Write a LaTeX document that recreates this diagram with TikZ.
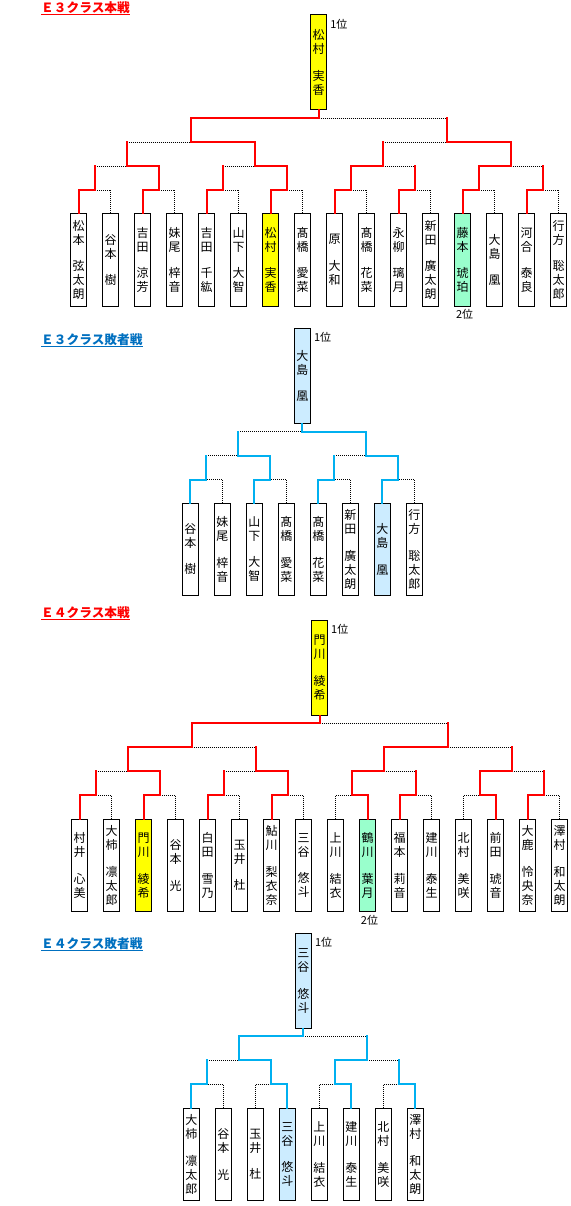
\documentclass[tikz,border=0pt]{standalone}
\usepackage{fontspec}
\newfontfamily\jp{Noto Sans CJK JP}
\usetikzlibrary{calc}
\definecolor{winred}{RGB}{255,0,0}
\definecolor{winblue}{RGB}{0,176,240}
\definecolor{ttlblue}{RGB}{0,112,192}
\definecolor{cyel}{RGB}{255,255,0}
\definecolor{cmint}{RGB}{153,255,204}
\definecolor{clblue}{RGB}{204,236,255}
\tikzset{
  leaf/.style={draw=black, line width=1pt, minimum width=16pt, minimum height=92pt, inner sep=0pt, align=center, font=\jp\fontsize{12}{14}\selectfont},
  champ/.style={leaf, minimum height=95pt},
  lose/.style={draw=black, line width=0.9pt, dash pattern=on 1pt off 1pt},
  winr/.style={draw=winred, line width=2pt, line cap=rect},
  winb/.style={draw=winblue, line width=2pt, line cap=rect},
  ttl/.style={font=\jp\bfseries\fontsize{12.7}{14}\selectfont, inner sep=0pt, anchor=west},
  rank/.style={font=\jp\fontsize{11}{12}\selectfont, inner sep=0pt},
}
% pair match between two leaf nodes
\newcommand\pairm[5]{%
  \coordinate (tmpy) at (0,#3);
  \path ($(#1.north)!0.5!(#2.north)$) coordinate (#4-m);
  \coordinate (#4) at (#4-m |- tmpy);
  \draw[lose] (#1.north) -- (#1.north |- tmpy) -- (#2.north |- tmpy) -- (#2.north);
  \if#5l\draw[win] (#1.north) -- (#1.north |- tmpy) -- (#4);%
  \else\draw[win] (#2.north) -- (#2.north |- tmpy) -- (#4);\fi
}
% higher match between two junctions
\newcommand\grpm[5]{%
  \coordinate (tmpy) at (0,#3);
  \path ($(#1)!0.5!(#2)$) coordinate (#4-m);
  \coordinate (#4) at (#4-m |- tmpy);
  \draw[lose] (#1 |- tmpy) -- (#2 |- tmpy);
  \draw[win] (#1) -- (#1 |- tmpy);
  \draw[win] (#2) -- (#2 |- tmpy);
  \if#5l\draw[win] (#1 |- tmpy) -- (#4);%
  \else\draw[win] (#2 |- tmpy) -- (#4);\fi
}
\begin{document}
\begin{tikzpicture}[x=1pt,y=-1pt]
\useasboundingbox (0,0) rectangle (570,1206);
\fill[white] (0,0) rectangle (570,1206);

%================ E3 main
\node[ttl, text=winred] (tA) at (41,7.8) {Ｅ３クラス本戦};
\draw[winred, line width=1pt] ([yshift=-0.8pt]tA.south west) -- ([yshift=-0.8pt]tA.south east);
\begin{scope}[win/.style=winr]
\foreach \t/\f [count=\i from 0] in {
 {松\\本\\[12.5pt]弦\\太\\朗}/white, {谷\\本\\[12.5pt]樹}/white, {吉\\田\\[12.5pt]涼\\芳}/white, {妹\\尾\\[12.5pt]梓\\音}/white,
 {吉\\田\\[12.5pt]千\\紘}/white, {山\\下\\[12.5pt]大\\智}/white, {松\\村\\[12.5pt]実\\香}/cyel, {髙\\橋\\[12.5pt]愛\\菜}/white,
 {原\\[12.5pt]大\\和}/white, {髙\\橋\\[12.5pt]花\\菜}/white, {永\\柳\\[12.5pt]璃\\月}/white, {新\\田\\[12.5pt]廣\\太\\朗}/white,
 {藤\\本\\[12.5pt]琥\\珀}/cmint, {大\\島\\[12.5pt]凰}/white, {河\\合\\[12.5pt]泰\\良}/white, {行\\方\\[12.5pt]聡\\太\\郎}/white}
 \node[leaf, fill=\f] (A\i) at (78.6+32*\i,260) {\t};
\pairm{A0}{A1}{190}{Ap0}{l}
\pairm{A2}{A3}{190}{Ap1}{l}
\pairm{A4}{A5}{190}{Ap2}{l}
\pairm{A6}{A7}{190}{Ap3}{l}
\pairm{A8}{A9}{190}{Ap4}{l}
\pairm{A10}{A11}{190}{Ap5}{l}
\pairm{A12}{A13}{190}{Ap6}{l}
\pairm{A14}{A15}{190}{Ap7}{l}
\grpm{Ap0}{Ap1}{166}{Ag0}{r}
\grpm{Ap2}{Ap3}{166}{Ag1}{r}
\grpm{Ap4}{Ap5}{166}{Ag2}{l}
\grpm{Ap6}{Ap7}{166}{Ag3}{l}
\grpm{Ag0}{Ag1}{142}{As0}{r}
\grpm{Ag2}{Ag3}{142}{As1}{r}
\grpm{As0}{As1}{118}{Af}{l}
\coordinate (cyA) at (0,62.5);
\node[champ, fill=cyel] (Ac) at (Af |- cyA) {松\\村\\[12.5pt]実\\香};
\draw[win] (Af) -- (Ac.south);
\node[rank, anchor=west] (Ar1) at ([xshift=3pt,yshift=-10pt]Ac.north east) {1位};
\node[rank, anchor=north] (Ar2) at ([xshift=2pt,yshift=-3pt]A12.south) {2位};
\end{scope}

%================ E3 loser
\node[ttl, text=ttlblue] (tB) at (41,339.2) {Ｅ３クラス敗者戦};
\draw[ttlblue, line width=1pt] ([yshift=-0.8pt]tB.south west) -- ([yshift=-0.8pt]tB.south east);
\begin{scope}[win/.style=winb]
\foreach \t/\f [count=\i from 0] in {
 {谷\\本\\[12.5pt]樹}/white, {妹\\尾\\[12.5pt]梓\\音}/white, {山\\下\\[12.5pt]大\\智}/white, {髙\\橋\\[12.5pt]愛\\菜}/white,
 {髙\\橋\\[12.5pt]花\\菜}/white, {新\\田\\[12.5pt]廣\\太\\朗}/white, {大\\島\\[12.5pt]凰}/clblue, {行\\方\\[12.5pt]聡\\太\\郎}/white}
 \node[leaf, fill=\f] (B\i) at (190.3+32*\i,549.3) {\t};
\pairm{B0}{B1}{479.5}{Bp0}{l}
\pairm{B2}{B3}{479.5}{Bp1}{l}
\pairm{B4}{B5}{479.5}{Bp2}{l}
\pairm{B6}{B7}{479.5}{Bp3}{l}
\grpm{Bp0}{Bp1}{455.5}{Bg0}{r}
\grpm{Bp2}{Bp3}{455.5}{Bg1}{r}
\grpm{Bg0}{Bg1}{431.5}{Bf}{r}
\coordinate (cyB) at (0,375.8);
\node[champ, fill=clblue] (Bc) at (Bf |- cyB) {大\\島\\[12.5pt]凰};
\draw[win] (Bf) -- (Bc.south);
\node[rank, anchor=west] (Br1) at ([xshift=3pt,yshift=-10pt]Bc.north east) {1位};
\end{scope}

%================ E4 main
\node[ttl, text=winred] (tC) at (41,612.5) {Ｅ４クラス本戦};
\draw[winred, line width=1pt] ([yshift=-0.8pt]tC.south west) -- ([yshift=-0.8pt]tC.south east);
\begin{scope}[win/.style=winr]
\foreach \t/\f [count=\i from 0] in {
 {村\\井\\[12.5pt]心\\美}/white, {大\\柿\\[12.5pt]凛\\太\\郎}/white, {門\\川\\[12.5pt]綾\\希}/cyel, {谷\\本\\[12.5pt]光}/white,
 {白\\田\\[12.5pt]雪\\乃}/white, {玉\\井\\[12.5pt]杜}/white, {鮎\\川\\[12.5pt]梨\\衣\\奈}/white, {三\\谷\\[12.5pt]悠\\斗}/white,
 {上\\川\\[12.5pt]結\\衣}/white, {鶴\\川\\[12.5pt]葉\\月}/cmint, {福\\本\\[12.5pt]莉\\音}/white, {建\\川\\[12.5pt]泰\\生}/white,
 {北\\村\\[12.5pt]美\\咲}/white, {前\\田\\[12.5pt]琥\\音}/white, {大\\鹿\\[12.5pt]怜\\央\\奈}/white, {澤\\村\\[12.5pt]和\\太\\朗}/white}
 \node[leaf, fill=\f] (C\i) at (79.5+32*\i,865.5) {\t};
\pairm{C0}{C1}{795.3}{Cp0}{l}
\pairm{C2}{C3}{795.3}{Cp1}{l}
\pairm{C4}{C5}{795.3}{Cp2}{l}
\pairm{C6}{C7}{795.3}{Cp3}{l}
\pairm{C8}{C9}{795.3}{Cp4}{r}
\pairm{C10}{C11}{795.3}{Cp5}{l}
\pairm{C12}{C13}{795.3}{Cp6}{r}
\pairm{C14}{C15}{795.3}{Cp7}{l}
\grpm{Cp0}{Cp1}{771.3}{Cg0}{r}
\grpm{Cp2}{Cp3}{771.3}{Cg1}{r}
\grpm{Cp4}{Cp5}{771.3}{Cg2}{l}
\grpm{Cp6}{Cp7}{771.3}{Cg3}{l}
\grpm{Cg0}{Cg1}{747.3}{Cs0}{l}
\grpm{Cg2}{Cg3}{747.3}{Cs1}{l}
\grpm{Cs0}{Cs1}{723.3}{Cf}{l}
\coordinate (cyC) at (0,667.8);
\node[champ, fill=cyel] (Cc) at (Cf |- cyC) {門\\川\\[12.5pt]綾\\希};
\draw[win] (Cf) -- (Cc.south);
\node[rank, anchor=west] (Cr1) at ([xshift=3pt,yshift=-10pt]Cc.north east) {1位};
\node[rank, anchor=north] (Cr2) at ([xshift=2pt,yshift=-3pt]C9.south) {2位};
\end{scope}

%================ E4 loser
\node[ttl, text=ttlblue] (tD) at (41,943.7) {Ｅ４クラス敗者戦};
\draw[ttlblue, line width=1pt] ([yshift=-0.8pt]tD.south west) -- ([yshift=-0.8pt]tD.south east);
\begin{scope}[win/.style=winb]
\foreach \t/\f [count=\i from 0] in {
 {大\\柿\\[12.5pt]凛\\太\\郎}/white, {谷\\本\\[12.5pt]光}/white, {玉\\井\\[12.5pt]杜}/white, {三\\谷\\[12.5pt]悠\\斗}/clblue,
 {上\\川\\[12.5pt]結\\衣}/white, {建\\川\\[12.5pt]泰\\生}/white, {北\\村\\[12.5pt]美\\咲}/white, {澤\\村\\[12.5pt]和\\太\\朗}/white}
 \node[leaf, fill=\f] (D\i) at (191.3+32*\i,1154.5) {\t};
\pairm{D0}{D1}{1084.3}{Dp0}{l}
\pairm{D2}{D3}{1084.3}{Dp1}{r}
\pairm{D4}{D5}{1084.3}{Dp2}{r}
\pairm{D6}{D7}{1084.3}{Dp3}{r}
\grpm{Dp0}{Dp1}{1060.3}{Dg0}{r}
\grpm{Dp2}{Dp3}{1060.3}{Dg1}{l}
\grpm{Dg0}{Dg1}{1036.3}{Df}{l}
\coordinate (cyD) at (0,980.8);
\node[champ, fill=clblue] (Dc) at (Df |- cyD) {三\\谷\\[12.5pt]悠\\斗};
\draw[win] (Df) -- (Dc.south);
\node[rank, anchor=west] (Dr1) at ([xshift=3pt,yshift=-10pt]Dc.north east) {1位};
\end{scope}
\end{tikzpicture}
\end{document}
